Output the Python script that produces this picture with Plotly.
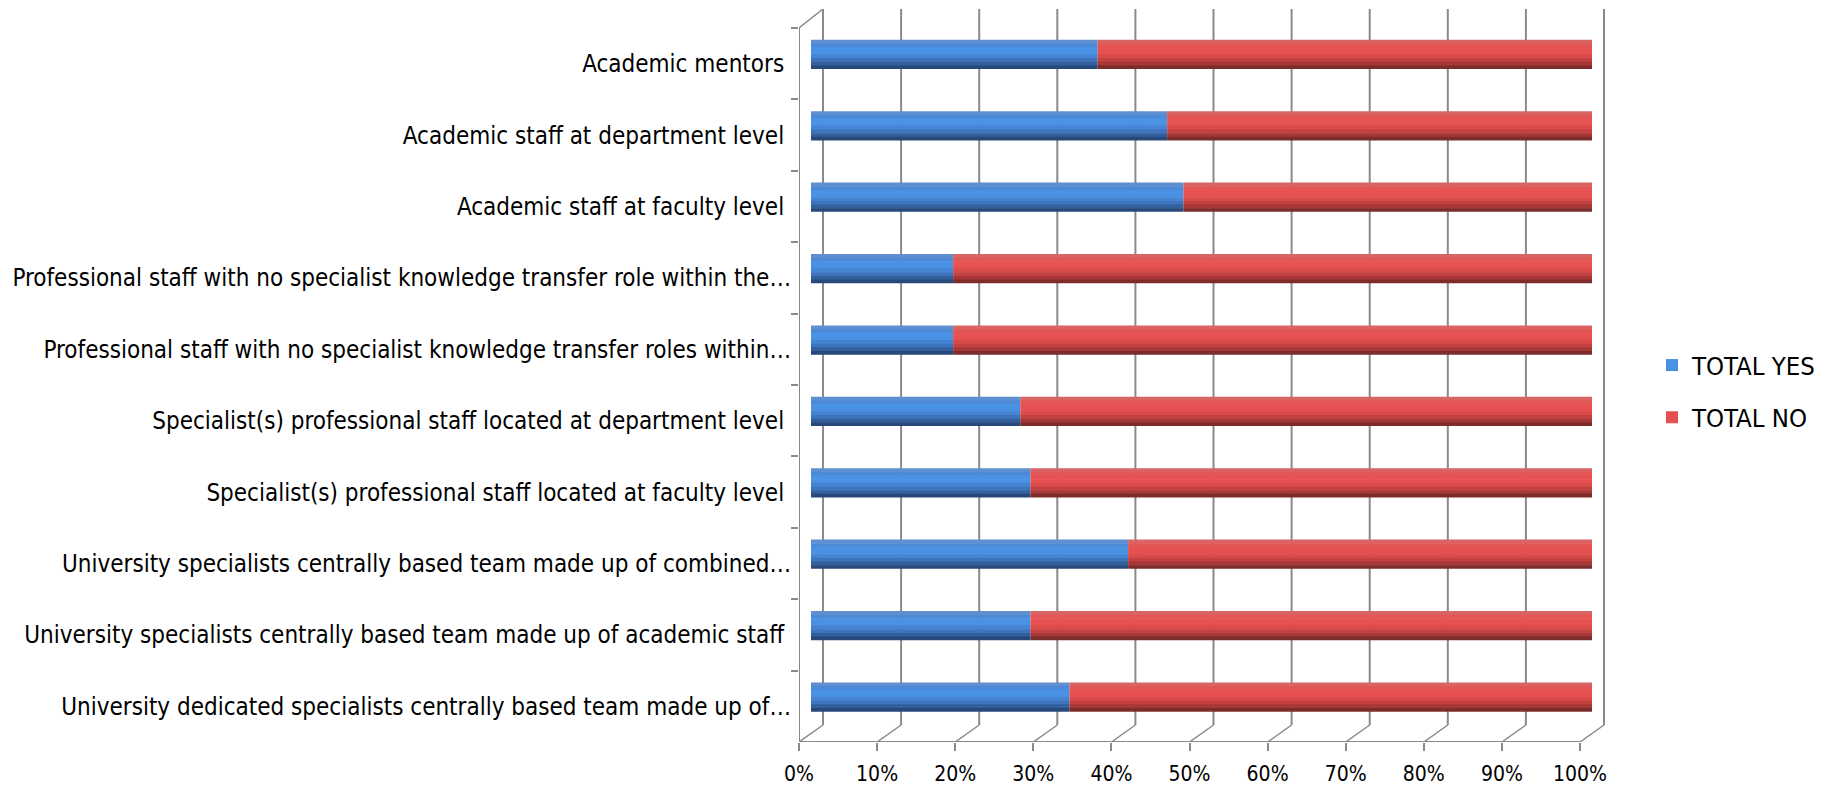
import plotly.graph_objects as go

categories = [
    "Academic mentors\u00a0",
    "Academic staff at department level\u00a0",
    "Academic staff at faculty level\u00a0",
    "Professional staff with no specialist knowledge transfer role within the\u2026",
    "Professional staff with no specialist knowledge transfer roles within\u2026",
    "Specialist(s) professional staff located at department level\u00a0",
    "Specialist(s) professional staff located at faculty level\u00a0",
    "University specialists centrally based team made up of combined\u2026",
    "University specialists centrally based team made up of academic staff\u00a0",
    "University dedicated specialists centrally based team made up of\u2026",
]
total_yes = [36.7, 45.6, 47.7, 18.2, 18.2, 26.8, 28.1, 40.6, 28.1, 33.1]
total_no = [100 - v for v in total_yes]
tick_values = [0, 10, 20, 30, 40, 50, 60, 70, 80, 90, 100]
tick_labels = [f"{v}%" for v in tick_values]

FONT = "Liberation Sans Narrow, DejaVu Sans Condensed, Arial, sans-serif"
GRID = "#8a8a8a"

blue_bands = ["#5f8fcf", "#4c8ad8", "#4a92e6", "#4a90e3", "#4584d2", "#3d74bb", "#33609c", "#27497a"]
red_bands = ["#d96464", "#e25656", "#e85252", "#e65050", "#d94a4a", "#c44141", "#a53737", "#7d2c2c"]

bar_w = 0.41
bar_off = -0.335

fig = go.Figure()
nb = len(blue_bands)
for series, base, colors, name in [
    (total_yes, None, blue_bands, "TOTAL YES"),
    (total_no, total_yes, red_bands, "TOTAL NO"),
]:
    for i, c in enumerate(colors):
        fig.add_trace(go.Bar(
            y=categories, x=series, base=base, orientation="h",
            width=bar_w / nb + (0.008 if i < nb - 1 else 0), offset=bar_off + i * bar_w / nb,
            marker=dict(color=c, line=dict(width=0)),
            name=name, legendgroup=name, showlegend=(i == 3),
            xaxis="x", yaxis="y", hoverinfo="skip",
        ))

fig.add_trace(go.Scatter(x=[0, 100], y=[categories[0], categories[0]], xaxis="x2", yaxis="y",
                         mode="markers", marker=dict(opacity=0), showlegend=False, hoverinfo="skip"))

W, H = 1835, 787
L, R = 799, 1610
ppu = 7.81
bar_shift_px = 12
back_dx = 24 / ppu
top_px, front_bottom_px = 9, 742
cat_px = 71.4
y_top = -0.5 - (28 - top_px) / cat_px
back_bottom = 9.5 - 17 / cat_px
back_top = y_top

fig.update_layout(
    width=W, height=H,
    margin=dict(l=L, r=W - R, t=top_px, b=H - front_bottom_px, autoexpand=False),
    paper_bgcolor="white", plot_bgcolor="white",
    barmode="overlay",
    font=dict(family=FONT, color="black", size=24),
    xaxis=dict(range=[-bar_shift_px / ppu, (R - L - bar_shift_px) / ppu], visible=False, fixedrange=True),
    xaxis2=dict(range=[0, (R - L) / ppu], overlaying="x", side="bottom", anchor="y",
                tickvals=tick_values, ticktext=tick_labels, showgrid=False, zeroline=False,
                ticks="outside", ticklen=8, tickwidth=2, tickcolor=GRID, showline=False,
                tickfont=dict(size=21, family=FONT), ticklabelstandoff=5),
    yaxis=dict(type="category", categoryorder="array", categoryarray=categories,
               range=[9.5, y_top], showgrid=False, zeroline=False, showline=False,
               ticks="outside", ticklen=7, tickwidth=2, tickcolor=GRID, tickson="boundaries",
               tickfont=dict(size=24, family=FONT), ticklabelstandoff=7),
    legend=dict(xref="container", yref="container", x=1652 / W, y=1 - 342 / H,
                xanchor="left", yanchor="top", font=dict(size=25.5, family=FONT),
                tracegroupgap=16, bgcolor="rgba(0,0,0,0)"),
    showlegend=True,
)

shapes = []
for v in tick_values:
    shapes.append(dict(type="line", xref="x2", yref="y", x0=v + back_dx, x1=v + back_dx,
                       y0=back_top, y1=back_bottom, line=dict(color=GRID, width=2), layer="below"))
    shapes.append(dict(type="line", xref="x2", yref="y", x0=v + back_dx, x1=v,
                       y0=back_bottom, y1=9.5, line=dict(color=GRID, width=1.5), layer="below"))
shapes.append(dict(type="line", xref="x2", yref="y", x0=0, x1=100, y0=9.5, y1=9.5,
                   line=dict(color=GRID, width=2), layer="below"))
shapes.append(dict(type="line", xref="x2", yref="y", x0=0, x1=0, y0=-0.5, y1=9.5,
                   line=dict(color=GRID, width=2), layer="below"))
shapes.append(dict(type="line", xref="x2", yref="y", x0=0, x1=back_dx, y0=-0.5, y1=back_top,
                   line=dict(color=GRID, width=1.5), layer="below"))
fig.update_layout(shapes=shapes)

fig.write_html("out.html", config={"displayModeBar": False},
               post_script="document.body.style.margin='0';document.body.style.overflow='hidden';")
